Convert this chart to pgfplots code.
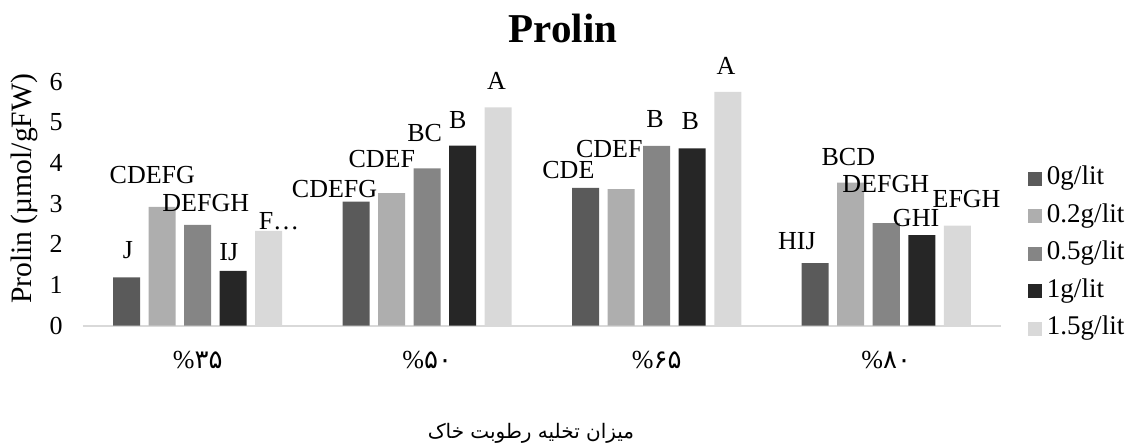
\documentclass[border=0pt]{standalone}
\usepackage{fontspec}
\setmainfont{Liberation Serif}
\newfontfamily\arabicfont[Script=Arabic]{DejaVu Sans}
\usepackage{pgfplots}
\pgfplotsset{compat=1.18}
\TeXXeTstate=1
\definecolor{c0}{HTML}{5A5A5A}
\definecolor{c1}{HTML}{AEAEAE}
\definecolor{c2}{HTML}{858585}
\definecolor{c3}{HTML}{262626}
\definecolor{c4}{HTML}{D9D9D9}
\definecolor{axisgray}{HTML}{D9D9D9}
\pgfplotsset{
  mybar/.style={ybar, bar width=13.5pt, draw=none,
    legend image code/.code={\fill[##1] (0pt,-3.5pt) rectangle (7pt,3.5pt);}},
}
\pgfplotstableread{
x y label
-0.304 1.86 J
-0.198 3.71 CDEFG
0.035 3.01 DEFGH
0.135 1.80 IJ
0.354 2.57 F…
0.596 3.36 CDEFG
0.802 4.11 CDEF
0.989 4.75 BC
1.133 5.06 B
1.302 6.03 A
1.615 3.82 CDE
1.793 4.35 CDEF
1.993 5.08 B
2.146 5.03 B
2.302 6.38 A
2.611 2.07 HIJ
2.835 4.15 BCD
2.998 3.48 DEFGH
3.130 2.64 GHI
3.350 3.12 EFGH
}\labels
\begin{document}
\begin{tikzpicture}
\path[use as bounding box] (-41.5pt,-59.15pt) rectangle (521pt,162.85pt);
\begin{axis}[
  at={(0pt,0pt)}, anchor=south west,
  scale only axis, width=459pt, height=122pt,
  xmin=-0.5, xmax=3.5, ymin=0, ymax=6,
  xtick={0,1,2,3},
  xticklabels={{\%{\arabicfont ۳۵}},{\%{\arabicfont ۵۰}},{\%{\arabicfont ۶۵}},{\%{\arabicfont ۸۰}}},
  ytick={0,1,2,3,4,5,6},
  axis lines*=left,
  x axis line style={draw=axisgray, line width=1pt},
  y axis line style={draw=none},
  major tick length=0pt,
  /pgf/number format/assume math mode=true,
  tick label style={font=\fontsize{13}{15}\selectfont, text=black},
  yticklabel style={xshift=-6.7pt},
  xticklabel style={anchor=center, yshift=-17.15pt},
  clip=false,
  title={Prolin},
  title style={at={(axis description cs:0.5229,1.1709)}, anchor=center, xshift=0pt, yshift=0pt, font=\fontsize{20.5}{24}\selectfont\bfseries},
  ylabel={Prolin (µmol/gFW)},
  ylabel style={at={(axis description cs:-0.0635,0.5607)}, anchor=center, xshift=0pt, yshift=0pt, font=\fontsize{14.8}{17}\selectfont},
  xlabel={\beginR میزان تخلیه رطوبت خاک\endR},
  xlabel style={at={(axis description cs:0.488,-0.4398)}, anchor=center, xshift=0pt, yshift=0pt, font=\arabicfont\fontsize{10}{12}\selectfont},
  legend style={at={(1.0294,0.66)}, anchor=north west, draw=none, fill=none,
    inner sep=0pt, outer sep=0pt, row sep=4.75pt, column sep=1.5pt,
    font=\fontsize{13.5}{15}\selectfont,
    nodes={inner sep=1pt, text height=9pt, text depth=3pt}},
  legend cell align=left,
]
\addplot[mybar, fill=c0, bar shift=-35.5pt] coordinates {(0,1.19) (1,3.05) (2,3.39) (3,1.54)};
\addplot[mybar, fill=c1, bar shift=-17.75pt] coordinates {(0,2.92) (1,3.26) (2,3.36) (3,3.52)};
\addplot[mybar, fill=c2, bar shift=0pt] coordinates {(0,2.48) (1,3.87) (2,4.42) (3,2.52)};
\addplot[mybar, fill=c3, bar shift=17.75pt] coordinates {(0,1.35) (1,4.43) (2,4.36) (3,2.23)};
\addplot[mybar, fill=c4, bar shift=35.5pt] coordinates {(0,2.33) (1,5.37) (2,5.75) (3,2.46)};
\legend{0g/lit,0.2g/lit,0.5g/lit,1g/lit,1.5g/lit}
\addplot[draw=none, mark=none, forget plot, nodes near coords, point meta=explicit symbolic,
  nodes near coords align=center,
  every node near coord/.append style={text=black, anchor=center, font=\fontsize{13}{15}\selectfont, inner sep=0pt}]
  table[x=x, y=y, meta=label] {\labels};
\end{axis}
\end{tikzpicture}
\end{document}
